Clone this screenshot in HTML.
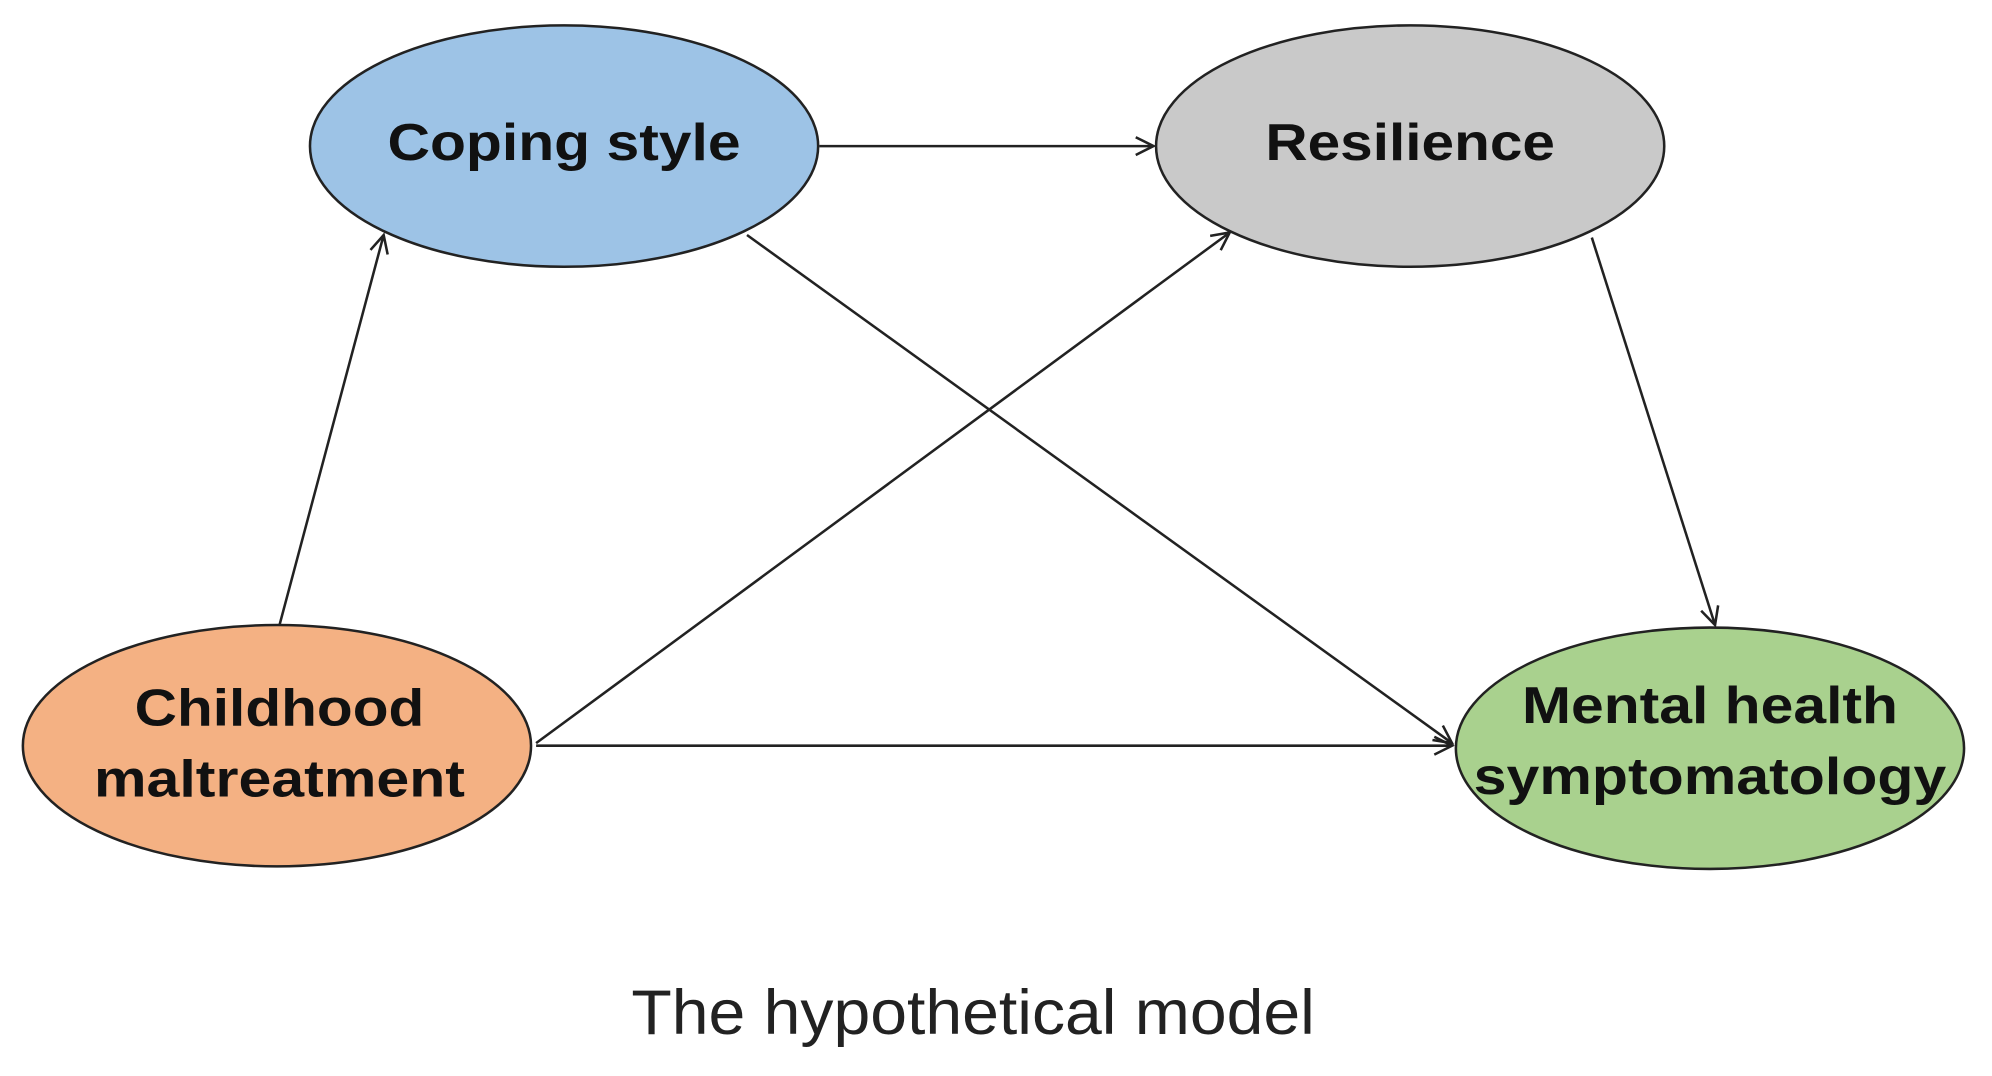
<!DOCTYPE html>
<html><head><meta charset="utf-8"><style>html,body{margin:0;padding:0;background:#fff}svg{display:block}</style></head>
<body>
<svg width="1992" height="1076" viewBox="0 0 1568 847" preserveAspectRatio="none" xmlns="http://www.w3.org/2000/svg">
<defs>
<marker id="a" markerWidth="20" markerHeight="20" refX="18" refY="10" orient="auto" markerUnits="userSpaceOnUse">
<path d="M4,3 L18,10 L4,17" fill="none" stroke="#222" stroke-width="2"/>
</marker>
</defs>
<g stroke="#222" stroke-width="2" fill="none" marker-end="url(#a)">
<line x1="645" y1="115" x2="908" y2="115"/>
<line x1="220" y1="492" x2="302" y2="185"/>
<line x1="422" y1="585" x2="968" y2="183"/>
<line x1="422" y1="587" x2="1143" y2="587"/>
<line x1="588" y1="185" x2="1143" y2="585"/>
<line x1="1253" y1="187" x2="1350" y2="492"/>
</g>
<g stroke="#222" stroke-width="2">
<ellipse cx="444" cy="115" rx="200" ry="95" fill="#9dc3e6"/>
<ellipse cx="1110" cy="115" rx="200" ry="95" fill="#c9c9c9"/>
<ellipse cx="218" cy="587" rx="200" ry="95" fill="#f4b183"/>
<ellipse cx="1346" cy="589" rx="200" ry="95" fill="#a9d18e"/>
</g>
<g font-family="Liberation Sans, Arial, sans-serif" font-weight="bold" font-size="41" fill="#111" text-anchor="middle">
<text x="444" y="126" textLength="278" lengthAdjust="spacingAndGlyphs">Coping style</text>
<text x="1110" y="126" textLength="228" lengthAdjust="spacingAndGlyphs">Resilience</text>
<text x="220" y="571" textLength="228" lengthAdjust="spacingAndGlyphs">Childhood</text>
<text x="220" y="627" textLength="292" lengthAdjust="spacingAndGlyphs">maltreatment</text>
<text x="1346" y="569" textLength="296" lengthAdjust="spacingAndGlyphs">Mental health</text>
<text x="1346" y="625" textLength="372" lengthAdjust="spacingAndGlyphs">symptomatology</text>
</g>
<text x="766" y="814" font-family="Liberation Sans, Arial, sans-serif" font-size="50" fill="#222" text-anchor="middle" textLength="538" lengthAdjust="spacingAndGlyphs">The hypothetical model</text>
</svg>
</body></html>
